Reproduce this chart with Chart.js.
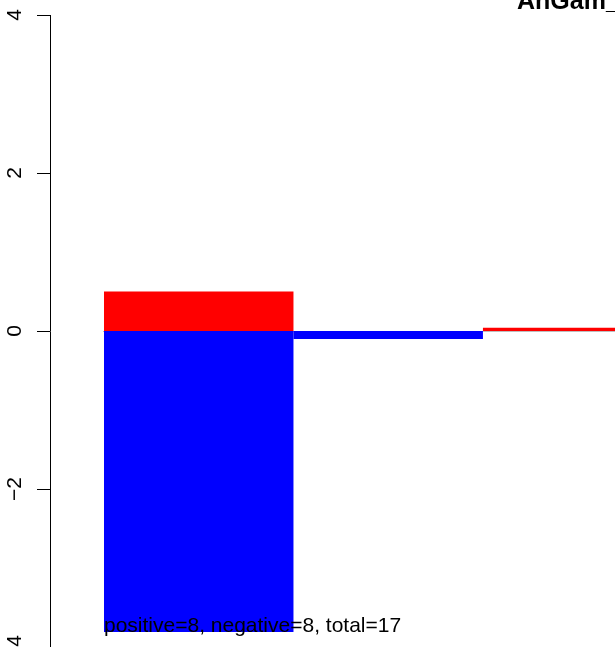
<!DOCTYPE html>
<html>
<head>
<meta charset="utf-8">
<script src="https://cdn.jsdelivr.net/npm/chart.js@4"></script>
<style>
  body { margin: 0; background: #fff; overflow: hidden; }
</style>
</head>
<body>
<canvas id="chart" width="615" height="647"></canvas>
<script>
// values (only the first three bars are visible)
const positive = [0.5, 0, 0.04];
const negative = [-3.81, -0.1, 0];
const yTicks = [-4, -2, 0, 2, 4];
const titleText = "AnGam_";
const noteText = "positive=8, negative=8, total=17";

const FONT = "'Liberation Sans', Arial, Helvetica, sans-serif";

// extra drawing: title, grey zero line and the note under the bars
const extras = {
  id: 'extras',
  beforeDatasetsDraw(chart) {
    const ctx = chart.ctx;
    const x = chart.scales.x, y = chart.scales.y;
    const y0 = Math.round(y.getPixelForValue(0)) + 0.5;
    ctx.save();
    ctx.strokeStyle = '#bebebe';
    ctx.lineWidth = 1;
    ctx.beginPath();
    ctx.moveTo(x.getPixelForValue(0) - 1, y0);
    ctx.lineTo(chart.width, y0);
    ctx.stroke();
    ctx.restore();
  },
  afterDraw(chart) {
    const ctx = chart.ctx;
    const x = chart.scales.x, y = chart.scales.y;
    ctx.save();
    ctx.fillStyle = '#000';
    ctx.textBaseline = 'alphabetic';
    ctx.textAlign = 'left';
    ctx.font = 'bold 25px ' + FONT;
    ctx.fillText(titleText, 517, 9);
    ctx.font = '21px ' + FONT;
    ctx.fillText(noteText, x.getPixelForValue(0), y.getPixelForValue(Math.min(...negative)));
    ctx.restore();
  }
};

const ctx = document.getElementById('chart').getContext('2d');
new Chart(ctx, {
  type: 'bar',
  data: {
    datasets: [
      {
        label: 'positive',
        data: positive.map((v, i) => ({ x: i + 0.5, y: v })),
        backgroundColor: '#ff0000',
        borderWidth: 0,
        inflateAmount: 0
      },
      {
        label: 'negative',
        data: negative.map((v, i) => ({ x: i + 0.5, y: v })),
        backgroundColor: '#0000ff',
        borderWidth: 0,
        inflateAmount: 0
      }
    ]
  },
  options: {
    responsive: false,
    animation: false,
    layout: {
      padding: { top: 15, left: 0, right: 0, bottom: 0 }
    },
    datasets: {
      bar: { barPercentage: 1, categoryPercentage: 1 }
    },
    scales: {
      x: {
        type: 'linear',
        display: false,
        stacked: true,
        min: -0.285,
        max: 2.697,
        afterBuildTicks: function(scale) {
          scale.ticks = [];
        }
      },
      y: {
        stacked: true,
        min: -4,
        max: 4,
        afterBuildTicks: function(scale) {
          scale.ticks = yTicks.map(v => ({ value: v }));
        },
        afterFit: function(scale) {
          scale.width = 50;
          scale.paddingTop = 0;
          scale.paddingBottom = 0;
          // red and blue bars should meet at zero, no half pixel gap for the grid line
          scale.getLineWidthForValue = () => 0;
        },
        border: { display: true, color: '#000', width: 1 },
        grid: {
          drawOnChartArea: false,
          drawTicks: true,
          tickLength: 13,
          color: '#000',
          lineWidth: 1
        },
        ticks: {
          minRotation: 90,
          maxRotation: 90,
          crossAlign: 'center',
          padding: 10,
          color: '#000',
          font: { family: FONT, size: 21 },
          callback: function(value) {
            return value < 0 ? '\u2212' + Math.abs(value) : String(value);
          }
        }
      }
    },
    plugins: {
      legend: { display: false },
      title: { display: false },
      tooltip: { enabled: true }
    }
  },
  plugins: [extras]
});
</script>
</body>
</html>
